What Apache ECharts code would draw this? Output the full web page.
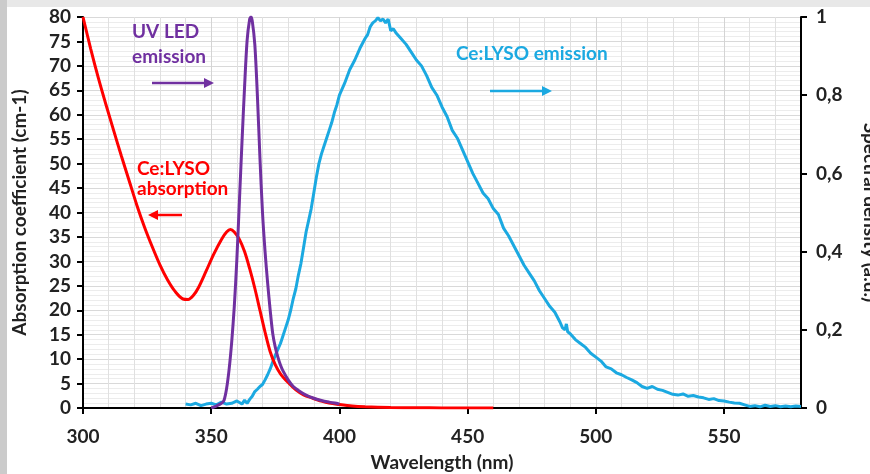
<!DOCTYPE html>
<html><head><meta charset="utf-8">
<script src="https://cdn.jsdelivr.net/npm/echarts@6/dist/echarts.min.js"></script>
<style>html,body{margin:0;padding:0;background:#fff;}#c{width:870px;height:474px;}</style>
</head><body><div id="c"></div>
<script>
// Ce:LYSO absorption (cm-1), left axis
const absWl = [300,303,306,309,312,315,318,321,324,327,330,333,336,339,341,343,345,348,351,354,356,357.5,359,361,363,365,367,369,371,373,375,377,380,383,386,389.6,393,396,400,405,410,420,430,440,460];
const absVal = [80,73.5,67.5,62,56.7,51.5,46.5,41.5,37,33,29.3,26.2,23.8,22.3,22.2,23,24.6,28,31.5,34.5,36,36.5,36,34.5,32,28.5,24.5,20,15.5,11.5,8.8,7,5.2,3.7,2.7,2,1.4,1,0.7,0.4,0.25,0.1,0.05,0.02,0];
// UV LED emission (a.u.), right axis
const ledWl = [350,352,354,355,356,357,358,359,360,361,362,363,364,365,365.5,366,367,368,369,370,371,372,373,374,375,376,377,378,380,382,384,387,390,393,396,398.8,400];
const ledVal = [0,0.005,0.012,0.02,0.05,0.1,0.17,0.26,0.38,0.53,0.68,0.82,0.94,0.995,1,0.99,0.93,0.8,0.64,0.5,0.4,0.32,0.25,0.19,0.155,0.13,0.11,0.095,0.072,0.055,0.045,0.033,0.025,0.019,0.015,0.012,0.01];
// Ce:LYSO emission (a.u.), right axis
const emWl = [340,342,344,346,348,350,352,354,356,358,360,362,363,364,365,366,367,368,369,370,371,372,373,374,375,376,377,378,379,380,381,382,383,384,385,386,387,388,389,390,391,392,393,394,395,396,397,398,399,400,402,404,406,408,410,411,412,413,414,415,416,417,418,419,420,421,422,424,426,428,430,432,434,436,438,440,442,444,446,448,450,452,454,456,458,460,462,464,466,468,470,472,474,476,478,480,482,484,486,487,488,488.5,489,490,492,494,496,498,500,502,504,506,508,510,512,514,516,518,520,522,524,526,528,530,532,534,536,538,540,542,544,546,548,550,552,554,556,558,560,562,564,566,568,570,572,574,576,578,580];
const emVal = [0.01,0.008,0.012,0.006,0.01,0.012,0.008,0.015,0.01,0.012,0.018,0.01,0.02,0.012,0.022,0.03,0.042,0.048,0.055,0.06,0.072,0.085,0.1,0.118,0.135,0.15,0.165,0.185,0.205,0.225,0.25,0.28,0.305,0.34,0.37,0.41,0.45,0.48,0.51,0.55,0.59,0.625,0.65,0.67,0.69,0.71,0.73,0.755,0.775,0.8,0.83,0.865,0.89,0.92,0.945,0.955,0.975,0.985,0.99,0.998,0.99,0.995,0.985,0.995,0.965,0.97,0.96,0.945,0.93,0.91,0.89,0.875,0.85,0.82,0.8,0.77,0.745,0.71,0.69,0.66,0.63,0.6,0.575,0.55,0.535,0.51,0.495,0.46,0.44,0.415,0.39,0.365,0.345,0.325,0.3,0.28,0.26,0.245,0.22,0.205,0.2,0.215,0.195,0.19,0.175,0.165,0.155,0.14,0.13,0.12,0.105,0.1,0.09,0.085,0.078,0.072,0.065,0.055,0.05,0.055,0.048,0.045,0.04,0.035,0.033,0.036,0.03,0.032,0.028,0.026,0.022,0.024,0.019,0.018,0.015,0.013,0.012,0.008,0.004,0.006,0.003,0.007,0.004,0.006,0.003,0.005,0.003,0.005,0.004];

const leftTicks = {min:0,max:80,interval:5};
const rightTicks = {min:0,max:1,interval:0.2};
const xTicks = {min:300,max:580,interval:50};

const pair = (xs, ys) => xs.map((x,i)=>[x,ys[i]]);
const F = 'Lato, "Open Sans", sans-serif';
const chart = echarts.init(document.getElementById('c'));
function txt(x,y,s,color,size){return {type:'text',left:x,top:y,z:100,style:{text:s,fill:color,font:'bold '+(size||19)+'px '+F}};}
function arrow(x1,x2,y,color){
  const dir = x2>x1?1:-1;
  return {type:'group',z:100,children:[
    {type:'line',z:100,shape:{x1:x1,y1:y,x2:x2-dir*8,y2:y},style:{stroke:color,lineWidth:2.5}},
    {type:'polygon',z:100,shape:{points:[[x2,y],[x2-dir*10,y-5],[x2-dir*10,y+5]]},style:{fill:color}}
  ]};
}
const lab = {fontFamily:F,fontWeight:'bold',fontSize:19,color:'#222'};
chart.setOption({
  animation:false,
  backgroundColor:'#fff',
  graphic:[
    {type:'rect',left:0,top:0,z:-10,shape:{width:870,height:7},style:{fill:'#e8e8e8'}},
    {type:'rect',left:0,top:0,z:-10,shape:{width:7,height:474},style:{fill:'#cbcbcb'}},
    txt(132,22,'UV LED','#7030a0'),
    txt(132,47,'emission','#7030a0'),
    arrow(152,214,83,'#7030a0'),
    txt(137,159,'Ce:LYSO','#ff0000'),
    txt(137,179,'absorption','#ff0000'),
    arrow(182,148,215,'#ff0000'),
    txt(456,44,'Ce:LYSO emission','#1ba9e1'),
    arrow(490,552,91,'#1ba9e1')
  ],
  grid:{left:83,right:69,top:17,bottom:66,containLabel:false,outerBoundsMode:'none'},
  xAxis:{type:'value',min:xTicks.min,max:xTicks.max,interval:xTicks.interval,
    name:'Wavelength (nm)',nameLocation:'middle',nameGap:45,
    nameTextStyle:lab,
    axisLine:{lineStyle:{color:'#000',width:2}},
    axisTick:{length:6,lineStyle:{color:'#000',width:2}},
    axisLabel:Object.assign({margin:19,showMaxLabel:false},lab),
    splitLine:{show:true,lineStyle:{color:'#d4d4d4',width:1}},
    minorTick:{show:false,splitNumber:5},
    minorSplitLine:{show:true,lineStyle:{color:'#e0e0e0',width:1}}
  },
  yAxis:[
    {type:'value',min:leftTicks.min,max:leftTicks.max,interval:leftTicks.interval,
      name:'Absorption coefficient (cm-1)',nameLocation:'middle',nameGap:54,nameRotate:90,
      nameTextStyle:lab,
      axisLine:{show:true,lineStyle:{color:'#000',width:2}},
      axisTick:{show:true,length:6,lineStyle:{color:'#000',width:2}},
      axisLabel:Object.assign({margin:12},lab),
      splitLine:{show:true,lineStyle:{color:'#d9d9d9',width:1}},
      minorTick:{show:false,splitNumber:5},
      minorSplitLine:{show:true,lineStyle:{color:'#ececec',width:1}}
    },
    {type:'value',min:rightTicks.min,max:rightTicks.max,interval:rightTicks.interval,position:'right',
      name:'Spectral density (a.u.)',nameLocation:'middle',nameGap:60,nameRotate:-90,
      nameTextStyle:lab,
      axisLine:{show:true,lineStyle:{color:'#000',width:2}},
      axisTick:{show:true,length:6,lineStyle:{color:'#000',width:2}},
      axisLabel:Object.assign({margin:15,formatter:v=>String(Math.round(v*10)/10).replace('.',',')},lab),
      splitLine:{show:false}
    }
  ],
  series:[
    {type:'line',name:'Ce:LYSO absorption',yAxisIndex:0,data:pair(absWl,absVal),smooth:0.3,showSymbol:false,lineStyle:{color:'#ff0000',width:3},z:3},
    {type:'line',name:'Ce:LYSO emission',yAxisIndex:1,data:pair(emWl,emVal),smooth:false,showSymbol:false,lineStyle:{color:'#1ba9e1',width:3},z:2},
    {type:'line',name:'UV LED emission',yAxisIndex:1,data:pair(ledWl,ledVal),smooth:0.3,showSymbol:false,lineStyle:{color:'#7030a0',width:3},z:4}
  ]
});
</script></body></html>
